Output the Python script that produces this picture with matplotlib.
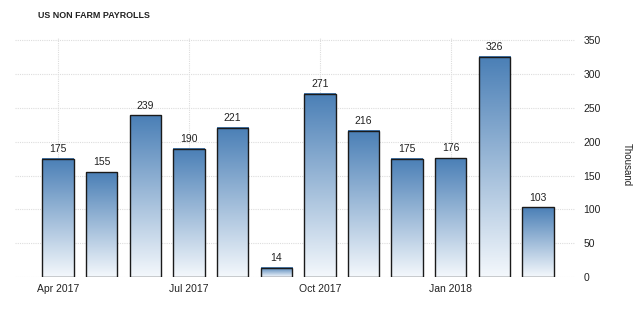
import numpy as np
import matplotlib.pyplot as plt
from matplotlib.colors import LinearSegmentedColormap

plt.rcParams['font.family'] = ['Liberation Sans', 'DejaVu Sans']

months = ['Apr 2017', 'May 2017', 'Jun 2017', 'Jul 2017', 'Aug 2017', 'Sep 2017',
          'Oct 2017', 'Nov 2017', 'Dec 2017', 'Jan 2018', 'Feb 2018', 'Mar 2018']
payrolls = [175, 155, 239, 190, 221, 14, 271, 216, 175, 176, 326, 103]
tick_months = ['Apr 2017', 'Jul 2017', 'Oct 2017', 'Jan 2018']
yticks = [0, 50, 100, 150, 200, 250, 300, 350]

fig = plt.figure(figsize=(6.4, 3.1), dpi=100)
ax = fig.add_axes([15 / 640, 33 / 310, (575 - 15) / 640, (277 - 37) / 310])

cmap = LinearSegmentedColormap.from_list('grad', ['#f4f8fc', '#4a7fb6'])
grad = np.linspace(0, 1, 256).reshape(-1, 1)

x = np.arange(len(months))
w = 0.72
for xi, v in zip(x, payrolls):
    ax.imshow(grad, cmap=cmap, origin='lower', aspect='auto',
              extent=(xi - w / 2, xi + w / 2, 0, v), zorder=2)
    ax.text(xi, v + 7, str(v), ha='center', va='bottom', fontsize=7.5, color='#222222')
ax.bar(x, payrolls, width=w, facecolor='none', edgecolor='#1a1a1a', linewidth=1.0, zorder=3)

ax.set_xlim(-0.99, 11.85)
ax.set_ylim(0, 355)

ax.set_xticks([months.index(m) for m in tick_months])
ax.set_xticklabels(tick_months)
ax.set_yticks(yticks)
ax.yaxis.tick_right()
ax.tick_params(axis='both', length=0, labelsize=7.5, colors='#222222')
ax.tick_params(axis='y', pad=6)
ax.tick_params(axis='x', pad=5)
ax.grid(True, color='#dddddd', linestyle=(0, (1, 1)), linewidth=0.8, zorder=0)
ax.set_axisbelow(True)
for s in ax.spines.values():
    s.set_visible(False)

fig.text(38 / 640, 1 - 15 / 310, 'US NON FARM PAYROLLS', fontsize=6.4, color='#222222',
         ha='left', va='center', fontweight='bold')
fig.text(627 / 640, 1 - 165 / 310, 'Thousand', fontsize=7, color='#222222',
         rotation=-90, ha='center', va='center')

fig.savefig('out.png', dpi=100)
